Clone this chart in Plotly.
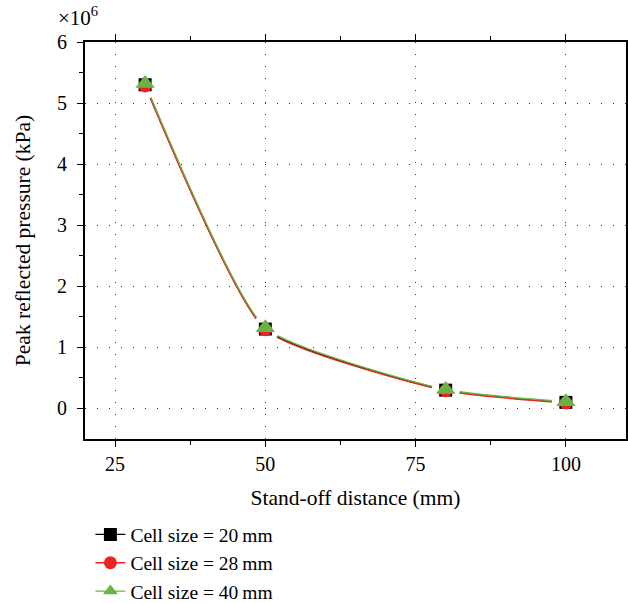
import plotly.graph_objects as go

distance = [30, 50, 80, 100]
p20 = [5.30e6, 1.30e6, 0.30e6, 0.10e6]
p28 = [5.28e6, 1.29e6, 0.29e6, 0.09e6]
p40 = [5.32e6, 1.32e6, 0.31e6, 0.11e6]

names = ["Cell size = 20\u2009mm", "Cell size = 28\u2009mm", "Cell size = 40\u2009mm"]
colors = ["#000000", "#ee2222", "#6ab343"]
symbols = ["square", "circle", "triangle-up"]
msizes = [13, 13, 17]
series = [p20, p28, p40]

FONT = "Liberation Serif, DejaVu Serif, serif"
TICK_FS = 20
TITLE_FS = 21.5
fig = go.Figure()

# curves
for ys, c in zip(series, colors):
    fig.add_trace(go.Scatter(x=distance, y=ys, mode="lines", line=dict(color=c, width=1.4, shape="spline", smoothing=0.5),
                             showlegend=False, hoverinfo="skip"))
# white gaps around markers
fig.add_trace(go.Scatter(x=distance, y=p20, mode="markers", marker=dict(color="white", size=28, symbol="circle"),
                         showlegend=False, hoverinfo="skip"))
# markers
for ys, c, s, ms in zip(series, colors, symbols, msizes):
    fig.add_trace(go.Scatter(x=distance, y=ys, mode="markers", marker=dict(color=c, symbol=s, size=ms, line=dict(width=0)),
                             showlegend=False))
# legend entries
for n, c, s in zip(names, colors, symbols):
    fig.add_trace(go.Scatter(x=[None], y=[None], mode="lines+markers", name=n,
                             line=dict(color=c, width=1.4), marker=dict(color=c, symbol=s, size=13)))

grid = dict(showgrid=True, gridcolor="#333333", griddash="1px,11px", gridwidth=1)
fig.update_xaxes(range=[20, 110], tickvals=[25, 50, 75, 100], ticks="outside", ticklen=6, tickcolor="black",
                 showline=True, linecolor="black", linewidth=2, mirror="ticks", zeroline=False,
                 minor=dict(tickvals=[37.5, 62.5, 87.5], ticks="outside", ticklen=4, tickcolor="black", showgrid=False),
                 title=dict(text="Stand-off distance (mm)", font=dict(size=TITLE_FS, family=FONT, color="black"), standoff=16),
                 tickfont=dict(size=TICK_FS, family=FONT, color="black"), automargin=False, **grid)
fig.update_yaxes(range=[-0.5e6, 6e6], tickvals=[0, 1e6, 2e6, 3e6, 4e6, 5e6, 6e6],
                 ticktext=["0", "1", "2", "3", "4", "5", "6"], ticks="outside", ticklen=6, tickcolor="black",
                 ticklabelstandoff=6,
                 showline=True, linecolor="black", linewidth=2, mirror="ticks", zeroline=False,
                 minor=dict(tickvals=[0.5e6, 1.5e6, 2.5e6, 3.5e6, 4.5e6, 5.5e6], ticks="outside", ticklen=4,
                            tickcolor="black", showgrid=False),
                 title=dict(text="Peak reflected pressure (kPa)", font=dict(size=TITLE_FS, family=FONT, color="black"), standoff=20),
                 tickfont=dict(size=TICK_FS, family=FONT, color="black"), automargin=False, **grid)

fig.add_annotation(text="\u00d710<sup>6</sup>", xref="paper", yref="paper", x=-0.054, y=1.025,
                   xanchor="left", yanchor="bottom", showarrow=False,
                   font=dict(size=21, family=FONT, color="black"))

fig.update_layout(width=628, height=603, margin=dict(l=85, r=2, t=42, b=164, autoexpand=False),
                  plot_bgcolor="white", paper_bgcolor="white",
                  font=dict(family=FONT, color="black"),
                  legend=dict(x=0.01, y=-0.192, xanchor="left", yanchor="top",
                              font=dict(size=19.5, family=FONT, color="black"), tracegroupgap=0, itemwidth=30,
                              bgcolor="rgba(0,0,0,0)"))
fig.write_html("out.html")
